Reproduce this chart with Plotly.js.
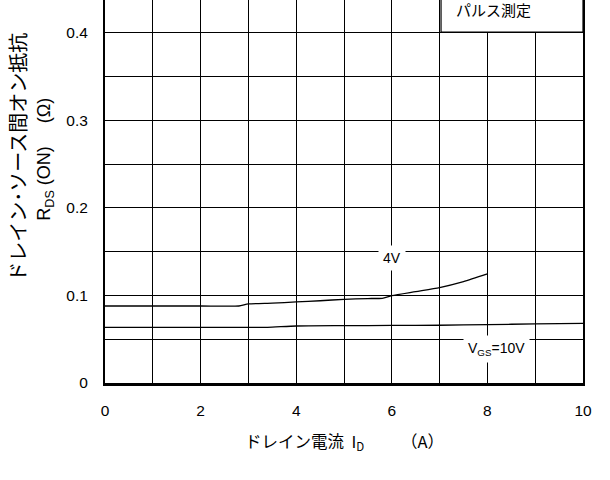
<!DOCTYPE html>
<html><head><meta charset="utf-8">
<script src="https://cdn.plot.ly/plotly-3.0.1.min.js"></script>
<style>html,body{margin:0;padding:0;background:#fff}#c{width:610px;height:480px}</style>
</head><body><div id="c"></div>
<script>
const id4 = [0, 1, 2, 2.8, 3, 3.5, 4, 4.5, 5, 5.5, 5.8, 6, 6.5, 7, 7.5, 8];
const r4  = [0.088, 0.088, 0.088, 0.088, 0.0903, 0.0912, 0.0926, 0.094, 0.0956, 0.0965, 0.0968, 0.0998, 0.1044, 0.109, 0.1158, 0.1246];
const id10 = [0, 1, 2, 3, 3.4, 4, 5, 6, 7, 8, 9, 10];
const r10  = [0.0636, 0.0636, 0.0636, 0.0636, 0.0636, 0.0651, 0.0655, 0.0658, 0.066, 0.0667, 0.0675, 0.0682];
const xTicks = [0, 2, 4, 6, 8, 10];
const yTicks = [0, 0.1, 0.2, 0.3, 0.4];
const yTickText = ['0', '0.1', '0.2', '0.3', '0.4'];
const curveLabels = ['4V', 'V<sub>GS</sub>=10V'];
const labelX = [6.0, 8.2];
const labelY = [0.143, 0.039];

const JP = '"Noto Sans CJK JP", "Liberation Sans", sans-serif';
const LAT = '"Liberation Sans", Arial, sans-serif';

const traces = [
  {x: id4, y: r4, mode: 'lines', line: {color: '#000', width: 1.3, shape: 'spline', smoothing: 0.6}, hoverinfo: 'skip'},
  {x: id10, y: r10, mode: 'lines', line: {color: '#000', width: 1.3, shape: 'spline', smoothing: 0.6}, hoverinfo: 'skip'}
];

const annotations = curveLabels.map((t, i) => ({
  x: labelX[i], y: labelY[i], xref: 'x', yref: 'y', text: t, showarrow: false,
  xanchor: 'center', yanchor: 'middle',
  font: {family: LAT, size: 14, color: '#000'}, bgcolor: '#fff', borderpad: 4
}));
annotations.push(
  {xref: 'paper', yref: 'paper', x: -0.182, y: 0.588, textangle: -90, showarrow: false,
   xanchor: 'center', yanchor: 'middle',
   text: 'ドレイン･ソース間オン抵抗', font: {family: JP, size: 20, color: '#000'}},
  {xref: 'paper', yref: 'paper', x: -0.124, y: 0.585, textangle: -90, showarrow: false,
   xanchor: 'center', yanchor: 'middle',
   text: 'R<sub>DS</sub> (ON)　 (Ω)', font: {family: LAT, size: 18, color: '#000'}},
  {xref: 'paper', yref: 'paper', x: 0.502, y: -0.153, showarrow: false,
   xanchor: 'center', yanchor: 'middle',
   text: 'ドレイン電流  I<sub>D</sub>　　 （A）', font: {family: JP, size: 16.5, color: '#000'}},
  {xref: 'paper', yref: 'paper', x: 0.73, y: 0.974, xanchor: 'left', yanchor: 'middle', showarrow: false,
   text: 'パルス測定', font: {family: JP, size: 15, color: '#000'}}
);

const layout = {
  width: 610, height: 480,
  margin: {l: 105, r: 27, t: 0, b: 97},
  paper_bgcolor: '#fff', plot_bgcolor: '#fff',
  showlegend: false,
  xaxis: {
    range: [0, 10], tickvals: xTicks, ticktext: xTicks.map(String),
    showgrid: true, gridcolor: '#000', gridwidth: 1,
    minor: {dtick: 1, showgrid: true, gridcolor: '#000', gridwidth: 1},
    zeroline: false, showline: true, linecolor: '#000', linewidth: 2.5, mirror: true,
    ticks: '', ticklabelstandoff: 12,
    tickfont: {family: LAT, size: 15.5, color: '#000'}
  },
  yaxis: {
    range: [0, 0.4376], tickvals: yTicks, ticktext: yTickText,
    showgrid: true, gridcolor: '#000', gridwidth: 1,
    minor: {dtick: 0.05, showgrid: true, gridcolor: '#000', gridwidth: 1},
    zeroline: false, showline: true, linecolor: '#000', linewidth: 2, mirror: true,
    ticks: '', ticklabelstandoff: 12,
    tickfont: {family: LAT, size: 15.5, color: '#000'}
  },
  shapes: [
    {type: 'rect', xref: 'paper', yref: 'paper', x0: 0.703, x1: 1.0, y0: 0.9165, y1: 1.05,
     fillcolor: '#fff', line: {color: '#000', width: 1.2}}
  ],
  annotations: annotations
};

Plotly.newPlot('c', traces, layout, {staticPlot: true, displayModeBar: false});
</script></body></html>
